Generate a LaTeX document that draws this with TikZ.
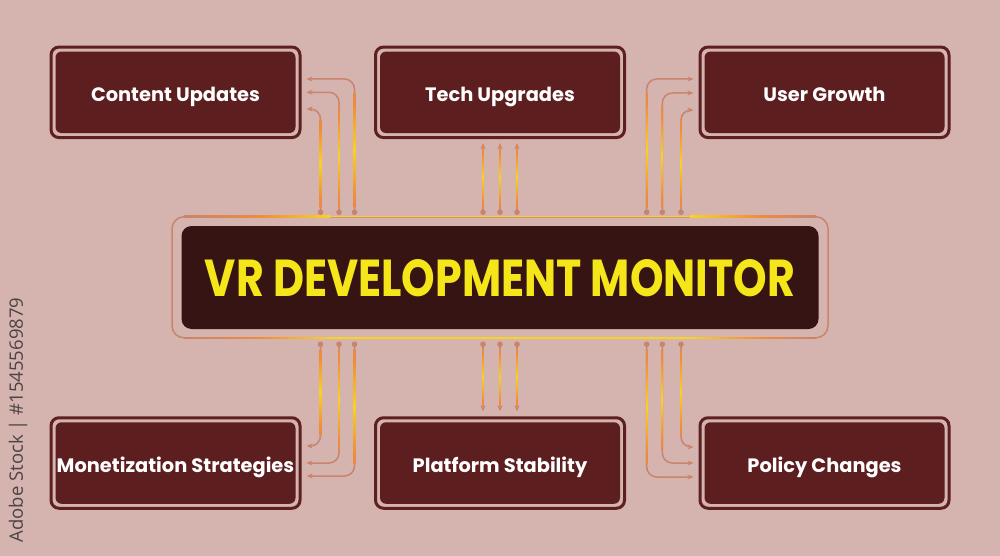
\documentclass[tikz,border=0pt]{standalone}
\usepackage{fontspec}
\setmainfont{Poppins}
\newfontfamily\wmfont{Open Sans}
\usetikzlibrary{arrows.meta,calc}
\definecolor{bg}{HTML}{D5B4B0}
\definecolor{boxred}{HTML}{5C1E1E}
\definecolor{rimred}{HTML}{5E1F20}
\definecolor{corecol}{HTML}{361414}
\definecolor{titley}{HTML}{F5E61A}
\definecolor{salmon}{HTML}{C9846C}
\definecolor{glow}{HTML}{F7D324}
\definecolor{flame}{HTML}{F08C3C}
\definecolor{wmgray}{HTML}{4C4444}
\pgfdeclareverticalshading{glowv}{100bp}{color(0bp)=(salmon); color(12bp)=(salmon); color(30bp)=(flame); color(50bp)=(glow); color(70bp)=(flame); color(88bp)=(salmon); color(100bp)=(salmon)}
\begin{document}
\begin{tikzpicture}[x=1pt,y=-1pt,
  box/.style={draw=rimred, line width=3pt, fill=bg, rounded corners=8pt,
    minimum width=249pt, minimum height=90.5pt, inner sep=0pt,
    text=white, font=\bfseries\fontsize{19.4}{24}\selectfont,
    text height=22pt, text depth=4pt,
    path picture={\fill[boxred, rounded corners=6pt]
      ([shift={(4.5pt,4.5pt)}]path picture bounding box.south west) rectangle
      ([shift={(-4.5pt,-4.5pt)}]path picture bounding box.north east);}},
  framebox/.style={draw=salmon, line width=1.5pt, rounded corners=12pt,
    minimum width=656pt, minimum height=121pt, inner sep=0pt},
  corebox/.style={fill=corecol, rounded corners=10pt,
    minimum width=637pt, minimum height=103pt, inner sep=0pt},
  conn/.style={draw=salmon, line width=1.5pt, rounded corners=10pt,
    arrows={Circle[length=5.5pt]-Stealth[length=6pt,width=5pt]}},
  glowbar/.style={shading=glowv},
]
% background
\fill[bg] (0,0) rectangle (1000,556);
\useasboundingbox (0,0) rectangle (1000,556);

% central monitor
\node[framebox] (frame) at (500,277.3) {};
\shade[left color=salmon, right color=flame] (184,215.95) rectangle (260,217.45);
\shade[left color=flame, right color=glow] (260,215.95) rectangle (330,217.45);
\fill[glow] (330,215.95) rectangle (690,217.45);
\shade[left color=glow, right color=flame] (690,215.95) rectangle (760,217.45);
\shade[left color=flame, right color=salmon] (760,215.95) rectangle (816,217.45);
\shade[left color=salmon, right color=flame] (184,337.1) rectangle (260,338.6);
\shade[left color=flame, right color=glow] (260,337.1) rectangle (330,338.6);
\fill[glow] (330,337.1) rectangle (690,338.6);
\shade[left color=glow, right color=flame] (690,337.1) rectangle (760,338.6);
\shade[left color=flame, right color=salmon] (760,337.1) rectangle (816,338.6);
\node[corebox] (core) at (500,277.5) {};
\node[text=titley, inner sep=0pt] (title) at (500,278)
  {\resizebox{590pt}{37pt}{\bfseries VR DEVELOPMENT MONITOR}};

% boxes
\node[box] (cu) at (175.5,92.3) {Content Updates};
\node[box] (tu) at (500,92.3) {Tech Upgrades};
\node[box] (ug) at (824.5,92.3) {User Growth};
\node[box] (ms) at (175.5,463) {Monetization Strategies};
\node[box] (ps) at (500,463) {Platform Stability};
\node[box] (pc) at (824.5,463) {Policy Changes};

% connector start points (dots on the monitor frame)
\coordinate (cu1) at (320.5,215);
\coordinate (cu2) at (339,215);
\coordinate (cu3) at (354.5,215);
\coordinate (tu1) at (483,215);
\coordinate (tu2) at (500,215);
\coordinate (tu3) at (517,215);
\coordinate (ug1) at (646.7,215);
\coordinate (ug2) at (662.3,215);
\coordinate (ug3) at (681,215);
\coordinate (ms1) at (320.5,341.5);
\coordinate (ms2) at (339,341.5);
\coordinate (ms3) at (354.5,341.5);
\coordinate (ps1) at (483,341.5);
\coordinate (ps2) at (500,341.5);
\coordinate (ps3) at (517,341.5);
\coordinate (pc1) at (681,341.5);
\coordinate (pc2) at (662.3,341.5);
\coordinate (pc3) at (646.7,341.5);

% connectors
\draw[conn] (cu1) |- ($(cu.east)+(5,16.7)$);
\draw[conn] (cu2) |- ($(cu.east)+(5,0)$);
\draw[conn] (cu3) |- ($(cu.east)+(5,-13.3)$);
\draw[conn] (tu1) -- ($(tu1 |- tu.south)+(0,4)$);
\draw[conn] (tu2) -- ($(tu2 |- tu.south)+(0,4)$);
\draw[conn] (tu3) -- ($(tu3 |- tu.south)+(0,4)$);
\draw[conn] (ug1) |- ($(ug.west)+(-5,-13.3)$);
\draw[conn] (ug2) |- ($(ug.west)+(-5,0.7)$);
\draw[conn] (ug3) |- ($(ug.west)+(-5,17.7)$);
\draw[conn] (ms1) |- ($(ms.east)+(5,-17)$);
\draw[conn] (ms2) |- ($(ms.east)+(5,0)$);
\draw[conn] (ms3) |- ($(ms.east)+(5,13)$);
\draw[conn] (ps1) -- ($(ps1 |- ps.north)+(0,-5)$);
\draw[conn] (ps2) -- ($(ps2 |- ps.north)+(0,-5)$);
\draw[conn] (ps3) -- ($(ps3 |- ps.north)+(0,-5)$);
\draw[conn] (pc1) |- ($(pc.west)+(-5,-16)$);
\draw[conn] (pc2) |- ($(pc.west)+(-5,0)$);
\draw[conn] (pc3) |- ($(pc.west)+(-5,14)$);

% glow on vertical runs
\shade[glowbar] (319.7,120) rectangle (321.3,207);
\shade[glowbar] (338.2,106) rectangle (339.8,207);
\shade[glowbar] (353.7,93) rectangle (355.3,207);
\shade[glowbar] (482.2,147) rectangle (483.8,208);
\shade[glowbar] (499.2,147) rectangle (500.8,208);
\shade[glowbar] (516.2,147) rectangle (517.8,208);
\shade[glowbar] (645.9,93) rectangle (647.5,207);
\shade[glowbar] (661.5,106) rectangle (663.1,207);
\shade[glowbar] (680.2,120) rectangle (681.8,207);
\shade[glowbar] (319.7,349) rectangle (321.3,435);
\shade[glowbar] (338.2,349) rectangle (339.8,450);
\shade[glowbar] (353.7,349) rectangle (355.3,464);
\shade[glowbar] (482.2,348) rectangle (483.8,407);
\shade[glowbar] (499.2,348) rectangle (500.8,407);
\shade[glowbar] (516.2,348) rectangle (517.8,407);
\shade[glowbar] (680.2,349) rectangle (681.8,435);
\shade[glowbar] (661.5,349) rectangle (663.1,450);
\shade[glowbar] (645.9,349) rectangle (647.5,464);

% side credit text
\node[rotate=90, inner sep=0pt, text=wmgray, font=\wmfont\fontsize{18.5}{22}\selectfont]
  (wm) at (18,420) {Adobe Stock | \#1545569879};
\end{tikzpicture}
\end{document}
